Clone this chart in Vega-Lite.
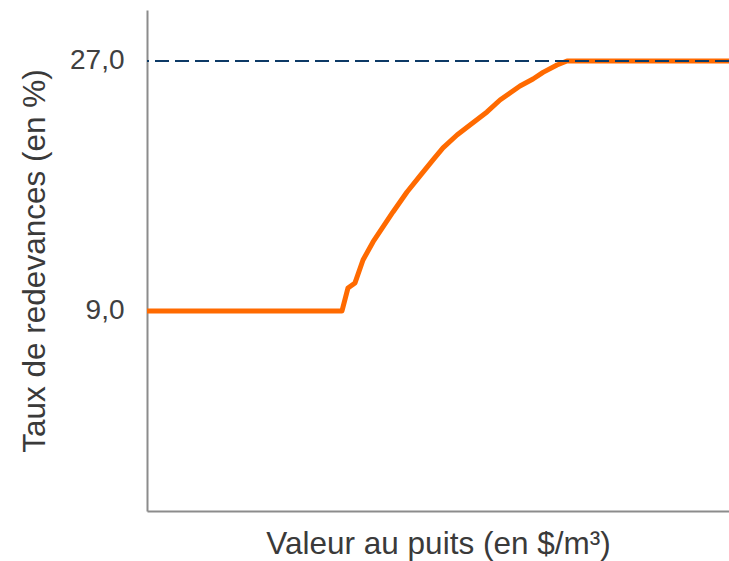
{
  "$schema": "https://vega.github.io/schema/vega-lite/v6.json",
  "width": 582,
  "height": 501,
  "autosize": {"type": "none"},
  "padding": {"left": 147, "top": 10, "right": 0, "bottom": 50},
  "config": {"view": {"stroke": null}, "font": "Liberation Sans"},
  "data": {"values": [
    {"x": 0, "y": 9},
    {"x": 195, "y": 9},
    {"x": 201, "y": 10.66},
    {"x": 208, "y": 11.02},
    {"x": 216, "y": 12.67},
    {"x": 226, "y": 13.97},
    {"x": 236, "y": 15.05},
    {"x": 246, "y": 16.13},
    {"x": 260, "y": 17.57},
    {"x": 273, "y": 18.73},
    {"x": 286, "y": 19.88},
    {"x": 296, "y": 20.74},
    {"x": 310, "y": 21.67},
    {"x": 323, "y": 22.39},
    {"x": 340, "y": 23.33},
    {"x": 353, "y": 24.19},
    {"x": 363, "y": 24.7},
    {"x": 373, "y": 25.2},
    {"x": 386, "y": 25.7},
    {"x": 396, "y": 26.18},
    {"x": 410, "y": 26.71},
    {"x": 420, "y": 27},
    {"x": 582, "y": 27}
  ]},
  "layer": [
    {
      "mark": {"type": "line", "color": "#FF6A00", "strokeWidth": 5, "strokeJoin": "round"},
      "encoding": {
        "x": {
          "field": "x", "type": "quantitative",
          "scale": {"domain": [0, 582], "nice": false, "zero": false},
          "axis": {
            "title": "Valeur au puits (en $/m³)",
            "titleFontSize": 31.5, "titleFontWeight": "normal", "titleColor": "#3a3a3a",
            "titlePadding": 17,
            "labels": false, "ticks": false, "grid": false,
            "domainColor": "#8c8c8c", "domainWidth": 2
          }
        },
        "y": {
          "field": "y", "type": "quantitative",
          "scale": {"domain": [-5.4, 30.67], "nice": false, "zero": false},
          "axis": {
            "title": "Taux de redevances (en %)",
            "titleFontSize": 31.5, "titleFontWeight": "normal", "titleColor": "#3a3a3a",
            "titlePadding": 18,
            "values": [9, 27],
            "labelExpr": "datum.value == 27 ? '27,0' : '9,0'",
            "labelFontSize": 28, "labelColor": "#404040", "labelPadding": 23,
            "ticks": false, "grid": false,
            "domainColor": "#8c8c8c", "domainWidth": 2
          }
        }
      }
    },
    {
      "data": {"values": [{"level": 27}]},
      "mark": {"type": "rule", "color": "#0D3A66", "strokeWidth": 2, "strokeDash": [14, 6]},
      "encoding": {
        "y": {"field": "level", "type": "quantitative"}
      }
    }
  ]
}
